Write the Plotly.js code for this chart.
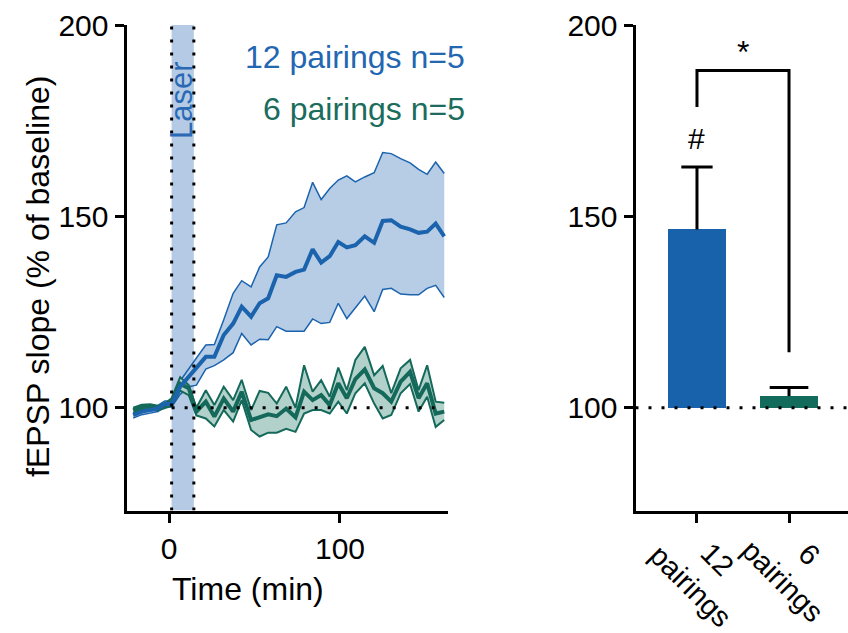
<!DOCTYPE html>
<html><head><meta charset="utf-8">
<script src="https://cdn.plot.ly/plotly-3.0.1.min.js"></script>
<style>html,body{margin:0;padding:0;background:#fff}</style>
</head><body><div id="chart" style="width:848px;height:633px"></div>
<script>
// ---- data ----
const time = [-21,-16,-11,-6.5,-2.5,1.5,6.5,11.5,16,21.5,26.5,32,37.5,42.5,48,53,58,63,68.5,74,79,84,89,94,99,104,109,114.5,120,125,130,135.5,141,146,151,156,161];
const blueMean  = [98.1,99.0,99.4,99.8,101.0,101.0,105.5,108.1,110.3,113.3,113.3,119,122,126.4,123.8,127.3,128.6,134.6,134.2,135.5,136.1,141.4,137.9,139.6,143.3,141.9,142.5,144.8,143.1,148.8,149,147.3,146.6,145.7,146,148.1,144.8];
const blueUpper = [99,99.8,100.2,100.6,101.8,101.8,107,110,113,116.4,116.5,123,129.9,133.2,131.6,136.8,139.4,147.8,148.3,151.2,152.3,158.9,154.4,157.3,159.5,160.6,159,160.3,161.4,166.7,166.4,165.1,164,162.3,161,164.2,161.2];
const blueLower = [97.3,98.2,98.6,99,100.2,100.2,103.5,105.5,105.9,110.1,111,112.5,114.4,119.4,116.4,117.9,117.8,121.2,120,120.1,120,123.2,122,122.3,127.3,123.3,126,129.2,125.1,130.9,131.2,129.7,129.5,129.5,131.2,132,128.8];
const greenMean  = [99.3,100.2,100.3,99.9,100.5,101.5,106.3,105.1,99.0,101.6,97.7,102.4,99.0,104.2,96.8,97.5,98.3,97.8,99.8,97.5,104.2,102,103.3,100.7,106.4,102.5,107.5,110,105.1,103.8,101.6,106.8,109.4,102.5,106.4,98.5,99.0];
const greenUpper = [100,100.8,100.9,100.5,101.1,102.5,108,105.9,100,104.6,100.7,105.5,102,107.3,99.4,104.4,103.9,101.1,105.5,100,111.1,104.2,107.2,102.9,110.5,104.6,112.5,115.9,108.5,110.9,103.8,110.3,112.5,104.6,111.1,101.6,101.3];
const greenLower = [98.6,99.6,99.7,99.3,99.9,100.5,104.5,103.3,98,97.2,95.1,99.4,96.4,102,94.2,92.5,93.5,93.5,94.5,93.7,98.5,99.4,99.4,98.5,101.6,98.5,103.8,106.4,101.1,97.2,98.1,103.8,106.2,99,102.9,95,96.8];

const barCategories = ['12<br>pairings', '6<br>pairings'];
const barPositions = [0, 1];
const barMeans  = [146.6, 103.05];
const barErrors = [16.3, 2.25];
const barBase = 100;

const timeTicks = [0, 100];
const slopeTicks = [100, 150, 200];
const laserStart = 1.5, laserEnd = 14.5;
const dottedLevel = 100;
const bracketTop = 188.1, bracketLeftEnd = 178.6, bracketRightEnd = 114.5;
const hashLevel = 170.4, starLevel = 193;

const legendTexts = ['12 pairings n=5', '6 pairings n=5'];

// ---- styling ----
const W = 848, H = 633;
const FONT = 'Liberation Sans, Arial, sans-serif';
const BLUE = '#1c63ae', BLUE_FILL = '#b7cde6', LASER_FILL = '#b5cbe5';
const GREEN = '#15695a', GREEN_FILL = '#b2d1ca';
const BAR_BLUE = '#1862ab', BAR_GREEN = '#136b5b';
const px = x => x / W, py = y => 1 - y / H;

const yRange = [73.16, 200];
const yDomain = [py(510.5), py(25)];
const capHalf = [0.17, 0.21];

// upward-only error bars (SEM) built from the bar arrays
const errX = [], errY = [];
barPositions.forEach((p, i) => {
  const top = barMeans[i] + barErrors[i];
  errX.push(p, p, null, p - capHalf[i], p + capHalf[i], null);
  errY.push(barMeans[i], top, null, top, top, null);
});

const traces = [
  {x: time, y: blueLower, type:'scatter', mode:'lines', line:{color:BLUE, width:1.5}, xaxis:'x', yaxis:'y'},
  {x: time, y: blueUpper, type:'scatter', mode:'lines', fill:'tonexty', fillcolor:BLUE_FILL, line:{color:BLUE, width:1.5}, xaxis:'x', yaxis:'y'},
  {x: time, y: greenLower, type:'scatter', mode:'lines', line:{color:GREEN, width:2}, xaxis:'x', yaxis:'y'},
  {x: time, y: greenUpper, type:'scatter', mode:'lines', fill:'tonexty', fillcolor:GREEN_FILL, line:{color:GREEN, width:2}, xaxis:'x', yaxis:'y'},
  {x: time, y: greenMean, type:'scatter', mode:'lines', line:{color:GREEN, width:4}, xaxis:'x', yaxis:'y'},
  {x: time, y: blueMean, type:'scatter', mode:'lines', line:{color:BLUE, width:4}, xaxis:'x', yaxis:'y'},
  {x:[barPositions[0]], y:[barMeans[0]-barBase], base:barBase, type:'bar', width:0.62, marker:{color:BAR_BLUE, line:{width:0}}, xaxis:'x2', yaxis:'y2'},
  {x:[barPositions[1]], y:[barMeans[1]-barBase], base:barBase, type:'bar', width:0.62, marker:{color:BAR_GREEN, line:{width:0}}, xaxis:'x2', yaxis:'y2'},
  {x: errX, y: errY, type:'scatter', mode:'lines', line:{color:'#000', width:3}, connectgaps:false, xaxis:'x2', yaxis:'y2'}
];

const axisCommon = {showline:true, linewidth:3, linecolor:'#000', ticks:'outside', ticklen:9, tickwidth:3, tickcolor:'#000',
  showgrid:false, zeroline:false, tickfont:{family:FONT, size:30, color:'#000'}, fixedrange:true};

const dotted = {color:'#000', width:3, dash:'3px,10px'};

const layout = {
  width:W, height:H, margin:{l:0, r:0, t:0, b:0}, paper_bgcolor:'#fff', plot_bgcolor:'rgba(0,0,0,0)',
  showlegend:false, bargap:0,
  font:{family:FONT, color:'#000'},
  xaxis: Object.assign({}, axisCommon, {domain:[px(126.5), px(448)], range:[-24.9, 163.2], tickvals:timeTicks, anchor:'y'}),
  yaxis: Object.assign({}, axisCommon, {domain:yDomain, range:yRange, tickvals:slopeTicks, anchor:'x'}),
  xaxis2: Object.assign({}, axisCommon, {domain:[px(635.5), 1], range:[-0.668, 1.641], tickvals:barPositions, showticklabels:false, anchor:'y2'}),
  yaxis2: Object.assign({}, axisCommon, {domain:yDomain, range:yRange, tickvals:slopeTicks, anchor:'x2'}),
  shapes: [
    {type:'rect', xref:'x', yref:'y', x0:laserStart, x1:laserEnd, y0:yRange[0], y1:yRange[1], fillcolor:LASER_FILL, line:{width:0}, layer:'below'},
    {type:'line', xref:'x', yref:'y', x0:laserStart, x1:laserStart, y0:yRange[0], y1:yRange[1], line:dotted, layer:'above'},
    {type:'line', xref:'x', yref:'y', x0:laserEnd, x1:laserEnd, y0:yRange[0], y1:yRange[1], line:dotted, layer:'above'},
    {type:'line', xref:'x', yref:'y', x0:laserStart, x1:time[time.length-1], y0:dottedLevel, y1:dottedLevel, line:dotted, layer:'above'},
    {type:'line', xref:'x2', yref:'y2', x0:-0.668, x1:1.641, y0:dottedLevel, y1:dottedLevel, line:dotted, layer:'above'},
    {type:'path', xref:'x2', yref:'y2', path:`M ${barPositions[0]} ${bracketLeftEnd} L ${barPositions[0]} ${bracketTop} L ${barPositions[1]} ${bracketTop} L ${barPositions[1]} ${bracketRightEnd}`, line:{color:'#000', width:3}, layer:'above'}
  ],
  annotations: [
    {text:legendTexts[0], xref:'paper', yref:'paper', x:px(467), y:py(57), xanchor:'right', yanchor:'middle', showarrow:false, font:{family:FONT, size:32, color:'#2366b1'}},
    {text:legendTexts[1], xref:'paper', yref:'paper', x:px(467), y:py(109), xanchor:'right', yanchor:'middle', showarrow:false, font:{family:FONT, size:32, color:'#1b6c5c'}},
    {text:'Laser', xref:'paper', yref:'paper', x:px(181), y:py(100), xanchor:'center', yanchor:'middle', textangle:-90, showarrow:false, font:{family:FONT, size:31, color:'#2a6ab4'}},
    {text:'fEPSP slope (% of baseline)', xref:'paper', yref:'paper', x:px(38), y:py(277), xanchor:'center', yanchor:'middle', textangle:-90, showarrow:false, font:{family:FONT, size:32, color:'#000'}},
    {text:'Time (min)', xref:'paper', yref:'paper', x:px(248), y:py(589), xanchor:'center', yanchor:'middle', showarrow:false, font:{family:FONT, size:32, color:'#000'}},
    {text:'#', xref:'x2', yref:'y2', x:barPositions[0], y:hashLevel, xanchor:'center', yanchor:'middle', showarrow:false, font:{family:FONT, size:30, color:'#000'}},
    {text:'*', xref:'x2', yref:'y2', x:(barPositions[0]+barPositions[1])/2, y:starLevel, xanchor:'center', yanchor:'middle', showarrow:false, font:{family:FONT, size:32, color:'#000'}},
    {text:barCategories[0], xref:'x2', yref:'paper', x:barPositions[0], xshift:7, y:py(573), xanchor:'center', yanchor:'middle', textangle:45, showarrow:false, font:{family:FONT, size:29, color:'#000'}},
    {text:barCategories[1], xref:'x2', yref:'paper', x:barPositions[1], xshift:7, y:py(568), xanchor:'center', yanchor:'middle', textangle:45, showarrow:false, font:{family:FONT, size:29, color:'#000'}}
  ]
};

Plotly.newPlot('chart', traces, layout, {staticPlot:true, displayModeBar:false});
</script></body></html>
